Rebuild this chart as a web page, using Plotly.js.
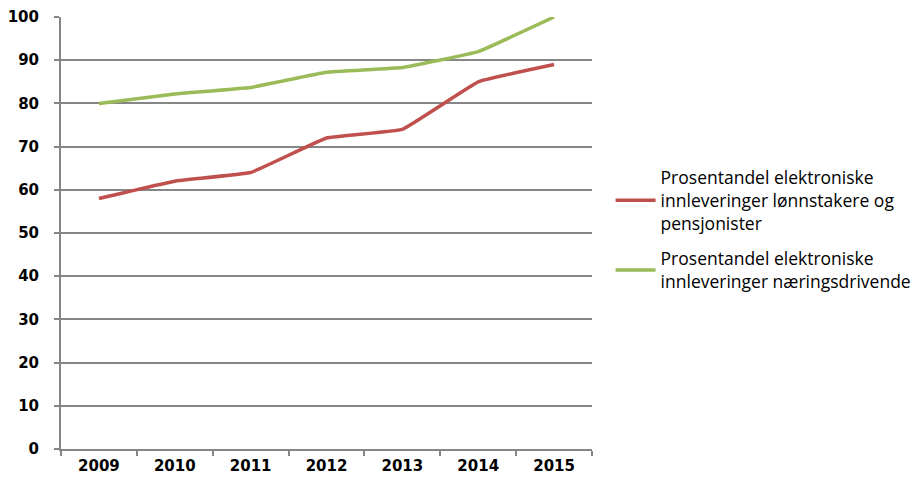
<!DOCTYPE html>
<html>
<head>
<meta charset="utf-8">
<script src="https://cdn.plot.ly/plotly-3.0.1.min.js"></script>
<style>html,body{margin:0;padding:0;background:#fff;}#chart{width:922px;height:480px;}</style>
</head>
<body>
<div id="chart"></div>
<script>
const years = ["2009", "2010", "2011", "2012", "2013", "2014", "2015"];
const lonnstakere = [58, 62, 64, 72, 74, 85, 89];
const naeringsdrivende = [80, 82.2, 83.7, 87.2, 88.3, 92, 100];
const names = [
  "Prosentandel elektroniske<br>innleveringer lønnstakere og<br>pensjonister",
  "Prosentandel elektroniske<br>innleveringer næringsdrivende"
];
const colors = ["#C0504D", "#9BBB59"];

const traces = [
  {x: years, y: lonnstakere, name: names[0], type: "scatter", mode: "lines", legendgroup: "a",
   line: {color: colors[0], width: 3.5, shape: "spline", smoothing: 0.25}},
  {x: years, y: naeringsdrivende, name: names[1], type: "scatter", mode: "lines", legendgroup: "b",
   line: {color: colors[1], width: 3.5, shape: "spline", smoothing: 0.25}}
];

const tickFont = {family: "'DejaVu Sans', sans-serif", size: 15, color: "#000", weight: "bold"};
const layout = {
  width: 922, height: 480,
  margin: {l: 61, r: 330, t: 17, b: 31, pad: 0, autoexpand: false},
  paper_bgcolor: "#fff", plot_bgcolor: "#fff",
  font: {family: "'Open Sans', sans-serif", size: 15, color: "#000"},
  showlegend: true,
  legend: {x: 1.035, y: 0.508, xanchor: "left", yanchor: "middle",
           font: {family: "'Open Sans', sans-serif", size: 17.5, color: "#000"},
           tracegroupgap: 10, itemwidth: 40},
  xaxis: {type: "category", range: [-0.5, 6.5], tickson: "boundaries",
          ticks: "outside", ticklen: 5, tickcolor: "#868686", tickwidth: 2,
          showline: true, linecolor: "#868686", linewidth: 2,
          showgrid: false, zeroline: false, ticklabelstandoff: 2,
          tickfont: tickFont},
  yaxis: {range: [0, 100], dtick: 10, tick0: 0,
          ticks: "outside", ticklen: 5, tickcolor: "#868686", tickwidth: 2,
          showline: true, linecolor: "#868686", linewidth: 2,
          showgrid: true, gridcolor: "#868686", gridwidth: 2, zeroline: false,
          ticklabelstandoff: 12,
          tickfont: tickFont}
};

Plotly.newPlot("chart", traces, layout, {displayModeBar: false, staticPlot: true});
</script>
</body>
</html>
